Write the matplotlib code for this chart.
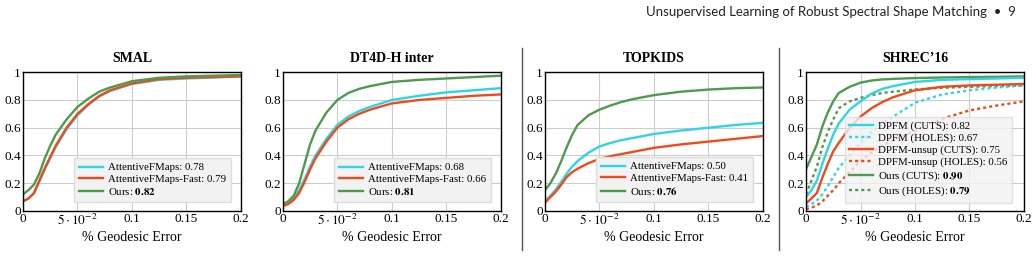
import numpy as np
import matplotlib
matplotlib.use("Agg")
import matplotlib.pyplot as plt
from matplotlib.lines import Line2D

plt.rcParams['font.family'] = ['Liberation Serif', 'DejaVu Serif']
plt.rcParams['mathtext.fontset'] = 'stix'

# ---- data ----
x = [0, 0.005, 0.01, 0.015, 0.02, 0.025, 0.03, 0.04, 0.05, 0.06, 0.07, 0.08,
     0.1, 0.125, 0.15, 0.175, 0.2]

smal_att = [0.07, 0.09, 0.125, 0.21, 0.30, 0.38, 0.46, 0.59, 0.69, 0.765, 0.825, 0.865,
            0.915, 0.945, 0.955, 0.962, 0.97]
smal_fast = [0.07, 0.09, 0.13, 0.22, 0.31, 0.39, 0.47, 0.60, 0.70, 0.77, 0.83, 0.87,
             0.92, 0.95, 0.96, 0.965, 0.97]
smal_ours = [0.12, 0.15, 0.19, 0.27, 0.38, 0.47, 0.55, 0.66, 0.75, 0.81, 0.86, 0.89,
             0.935, 0.96, 0.97, 0.975, 0.98]

dt4d_att = [0.04, 0.055, 0.09, 0.15, 0.23, 0.32, 0.40, 0.52, 0.62, 0.68, 0.72, 0.75,
            0.80, 0.83, 0.855, 0.87, 0.885]
dt4d_fast = [0.035, 0.05, 0.08, 0.13, 0.21, 0.30, 0.38, 0.50, 0.60, 0.66, 0.70, 0.73,
             0.775, 0.80, 0.815, 0.83, 0.84]
dt4d_ours = [0.05, 0.07, 0.11, 0.20, 0.34, 0.48, 0.58, 0.71, 0.80, 0.85, 0.88, 0.90,
             0.93, 0.945, 0.955, 0.965, 0.975]

topk_att = [0.07, 0.11, 0.155, 0.21, 0.27, 0.32, 0.36, 0.42, 0.465, 0.49, 0.51, 0.525,
            0.555, 0.58, 0.60, 0.62, 0.635]
topk_fast = [0.06, 0.10, 0.14, 0.19, 0.245, 0.28, 0.305, 0.345, 0.375, 0.395, 0.41, 0.425,
             0.455, 0.48, 0.50, 0.52, 0.54]
topk_ours = [0.15, 0.20, 0.27, 0.36, 0.46, 0.55, 0.62, 0.69, 0.73, 0.76, 0.785, 0.805,
             0.835, 0.86, 0.875, 0.885, 0.89]

shrec_dpfm_cuts = [0.10, 0.15, 0.22, 0.34, 0.45, 0.55, 0.63, 0.73, 0.79, 0.845, 0.88, 0.90,
                   0.93, 0.945, 0.95, 0.955, 0.96]
shrec_dpfm_holes = [0.03, 0.05, 0.075, 0.12, 0.18, 0.245, 0.31, 0.40, 0.49, 0.57, 0.63, 0.68,
                    0.78, 0.84, 0.87, 0.89, 0.905]
shrec_unsup_cuts = [0.055, 0.09, 0.13, 0.24, 0.34, 0.43, 0.49, 0.60, 0.68, 0.74, 0.785, 0.82,
                    0.87, 0.895, 0.905, 0.91, 0.915]
shrec_unsup_holes = [0.012, 0.025, 0.04, 0.07, 0.11, 0.15, 0.20, 0.28, 0.36, 0.42, 0.47, 0.51,
                     0.575, 0.665, 0.725, 0.76, 0.79]
shrec_ours_cuts = [0.30, 0.39, 0.48, 0.61, 0.71, 0.79, 0.85, 0.895, 0.925, 0.94, 0.948, 0.952,
                   0.958, 0.962, 0.965, 0.967, 0.97]
shrec_ours_holes = [0.12, 0.22, 0.32, 0.46, 0.57, 0.66, 0.74, 0.79, 0.815, 0.835, 0.85, 0.86,
                    0.875, 0.888, 0.895, 0.90, 0.905]

titles = ["SMAL", "DT4D-H inter", "TOPKIDS", "SHREC\u201916"]
att_scores = ["0.78", "0.68", "0.50"]
fast_scores = ["0.79", "0.66", "0.41"]
ours_scores = ["0.82", "0.81", "0.76"]

CYAN = "#2fd4e6"
RED = "#f04a1a"
GREEN = "#4f9a4f"
LW = 1.7
DOT = (0, (1.3, 1.3))

fig = plt.figure(figsize=(10.36, 2.57), dpi=100)
lefts = [0.0222, 0.273, 0.526, 0.778]
axes = [fig.add_axes([l, 0.179, 0.2104, 0.540]) for l in lefts]


def style(ax, title):
    ax.set_xlim(0, 0.2)
    ax.set_ylim(0, 1)
    ax.set_xticks([0, 0.05, 0.1, 0.15, 0.2])
    ax.set_xticklabels(["0", r"$5\cdot10^{-2}$", "0.1", "0.15", "0.2"])
    ax.set_yticks([0, 0.2, 0.4, 0.6, 0.8, 1])
    ax.set_yticklabels(["0", "0.2", "0.4", "0.6", "0.8", "1"])
    ax.tick_params(length=0, labelsize=9.5, pad=1.5)
    ax.grid(True, color="#cccccc", lw=0.8)
    ax.set_axisbelow(True)
    for s in ax.spines.values():
        s.set_linewidth(1.0)
    ax.set_title(title, fontsize=10, fontweight="bold", pad=7)
    ax.set_xlabel("% Geodesic Error", fontsize=10, labelpad=2)


def frame(leg, alpha):
    leg.get_frame().set_facecolor("#f2f2f2")
    leg.get_frame().set_edgecolor("#dddddd")
    leg.get_frame().set_alpha(alpha)


series3 = [(smal_att, smal_fast, smal_ours), (dt4d_att, dt4d_fast, dt4d_ours),
           (topk_att, topk_fast, topk_ours)]
for i in range(3):
    ax = axes[i]
    a, f, o = series3[i]
    ax.plot(x, a, color=CYAN, lw=LW)
    ax.plot(x, f, color=RED, lw=LW)
    ax.plot(x, o, color=GREEN, lw=LW)
    style(ax, titles[i])
    handles = [Line2D([], [], color=c, lw=LW) for c in (CYAN, RED, GREEN)]
    labels = ["AttentiveFMaps: " + att_scores[i],
              "AttentiveFMaps-Fast: " + fast_scores[i],
              "Ours: " + r"$\mathbf{" + ours_scores[i] + "}$"]
    leg = ax.legend(handles, labels, loc="lower right", fontsize=7.8, frameon=True,
                    fancybox=False, handlelength=2.2, handletextpad=0.5, borderpad=0.45,
                    labelspacing=0.2, bbox_to_anchor=(0.98, 0.025))
    frame(leg, 1)

ax = axes[3]
ax.plot(x, shrec_ours_cuts, color=GREEN, lw=LW)
ax.plot(x, shrec_ours_holes, color=GREEN, lw=LW, ls=DOT)
ax.plot(x, shrec_dpfm_cuts, color=CYAN, lw=LW)
ax.plot(x, shrec_dpfm_holes, color=CYAN, lw=LW, ls=DOT)
ax.plot(x, shrec_unsup_cuts, color=RED, lw=LW)
ax.plot(x, shrec_unsup_holes, color=RED, lw=LW, ls=DOT)
style(ax, titles[3])
sh_handles = [
    Line2D([], [], color=CYAN, lw=LW),
    Line2D([], [], color=CYAN, lw=LW, ls=DOT),
    Line2D([], [], color=RED, lw=LW),
    Line2D([], [], color=RED, lw=LW, ls=DOT),
    Line2D([], [], color=GREEN, lw=LW),
    Line2D([], [], color=GREEN, lw=LW, ls=DOT),
]
sh_labels = ["DPFM (CUTS): 0.82", "DPFM (HOLES): 0.67", "DPFM-unsup (CUTS): 0.75",
             "DPFM-unsup (HOLES): 0.56", r"Ours (CUTS): $\mathbf{0.90}$",
             r"Ours (HOLES): $\mathbf{0.79}$"]
leg = ax.legend(sh_handles, sh_labels, loc="lower right", fontsize=7.8, frameon=True,
                fancybox=False, handlelength=2.2, handletextpad=0.5, borderpad=0.4,
                labelspacing=0.2, bbox_to_anchor=(0.97, 0.02))
frame(leg, 0.8)

# separators
for xs in (522 / 1036, 779 / 1036):
    fig.add_artist(Line2D([xs, xs], [1 - 250 / 257, 1 - 48 / 257], color="#555555", lw=1.0))

fig.text(0.981, 0.955, "Unsupervised Learning of Robust Spectral Shape Matching  \u2022  9",
         ha="right", va="center", fontsize=9.5, family=["Lato", "DejaVu Sans"], color="#222222")

fig.savefig("out.png", dpi=100)
